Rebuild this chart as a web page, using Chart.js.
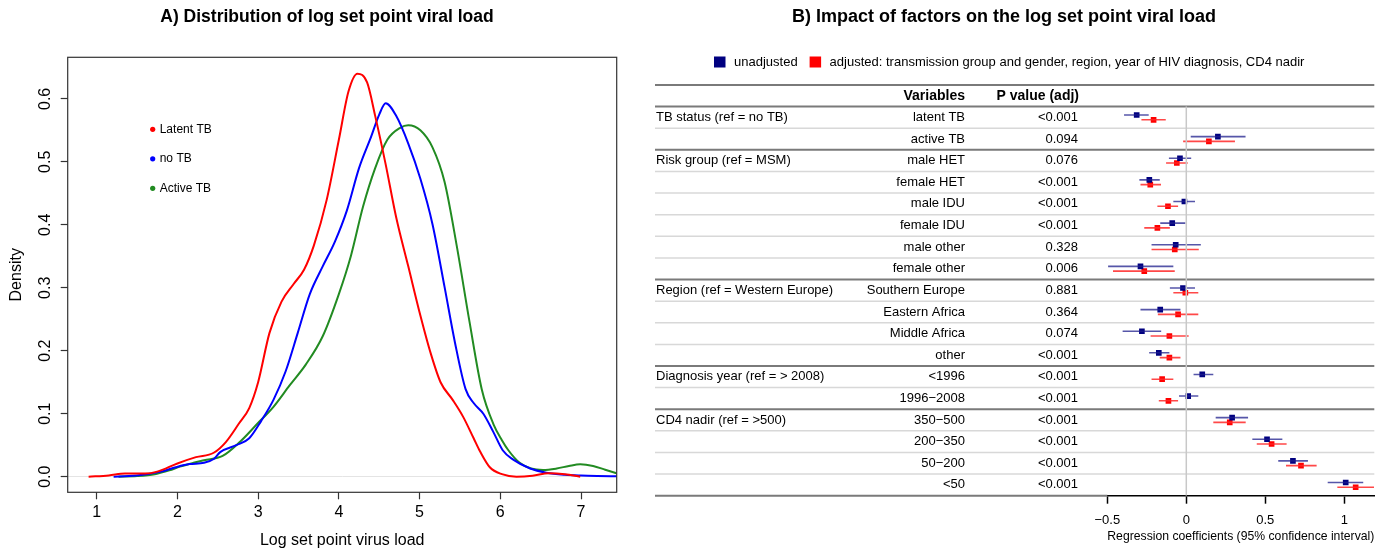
<!DOCTYPE html>
<html lang="en">
<head>
<meta charset="UTF-8">
<title>Set point viral load and TB</title>
<script src="https://cdn.jsdelivr.net/npm/chart.js"></script>
<style>
  body { margin: 0; background: #fff; }
  #wrap { position: relative; width: 1396px; height: 550px; }
  #left { position: absolute; left: 0; top: 0; }
  #right { position: absolute; left: 640px; top: 0; }
</style>
</head>
<body>
<div id="wrap">
  <canvas id="left" width="640" height="550"></canvas>
  <canvas id="right" width="756" height="550"></canvas>
</div>
<script>
// ---- panel A: density curves ----
const curveNames = ['Latent TB', 'no TB', 'Active TB'];
const curveColors = ['#ff0000', '#0000ff', '#228b22'];

const latentX = [0.90, 1.15, 1.35, 1.6, 1.75, 2.0, 2.23, 2.45, 2.6, 2.76, 2.89, 3.0, 3.14, 3.29, 3.44, 3.57, 3.69, 3.85, 4.0, 4.12, 4.23, 4.35, 4.45, 4.58, 4.71, 4.86, 5.01, 5.14, 5.26, 5.41, 5.54, 5.67, 5.75, 5.87, 6.02, 6.2, 6.4, 6.6, 6.8, 6.99];
const latentY = [0, 0.002, 0.005, 0.005, 0.008, 0.021, 0.031, 0.038, 0.055, 0.084, 0.109, 0.150, 0.228, 0.278, 0.306, 0.329, 0.367, 0.440, 0.535, 0.612, 0.640, 0.626, 0.573, 0.496, 0.412, 0.334, 0.256, 0.195, 0.150, 0.122, 0.095, 0.061, 0.040, 0.015, 0.004, 0.0, 0.0015, 0.0055, 0.004, 0.0];

const noTbX = [1.21, 1.4, 1.57, 1.8, 1.98, 2.15, 2.33, 2.45, 2.53, 2.73, 2.89, 3.04, 3.19, 3.34, 3.49, 3.64, 3.80, 3.95, 4.10, 4.25, 4.40, 4.50, 4.58, 4.71, 4.86, 5.01, 5.16, 5.31, 5.44, 5.57, 5.67, 5.79, 5.91, 6.03, 6.16, 6.37, 6.57, 6.8, 7.0, 7.2, 7.45];
const noTbY = [0, 0.001, 0.003, 0.008, 0.015, 0.020, 0.022, 0.028, 0.039, 0.050, 0.061, 0.089, 0.122, 0.167, 0.228, 0.290, 0.334, 0.373, 0.423, 0.490, 0.540, 0.575, 0.593, 0.573, 0.529, 0.473, 0.401, 0.301, 0.212, 0.139, 0.117, 0.100, 0.072, 0.042, 0.027, 0.013, 0.0064, 0.003, 0.0017, 0.001, 0.0005];

const activeX = [1.27, 1.5, 1.72, 1.9, 2.03, 2.2, 2.33, 2.56, 2.78, 2.99, 3.19, 3.39, 3.59, 3.80, 4.0, 4.15, 4.30, 4.45, 4.60, 4.76, 4.86, 5.01, 5.16, 5.31, 5.46, 5.62, 5.77, 5.92, 6.02, 6.10, 6.24, 6.38, 6.53, 6.7, 6.85, 6.99, 7.15, 7.3, 7.44];
const activeY = [0, 0.001, 0.004, 0.010, 0.016, 0.022, 0.026, 0.033, 0.056, 0.084, 0.111, 0.145, 0.178, 0.223, 0.290, 0.351, 0.429, 0.490, 0.535, 0.554, 0.558, 0.550, 0.523, 0.468, 0.367, 0.245, 0.139, 0.082, 0.058, 0.042, 0.022, 0.013, 0.0106, 0.013, 0.017, 0.0197, 0.017, 0.011, 0.0054];

// ---- panel B: forest plot table ----
const groupNames = ['TB status (ref = no TB)', 'Risk group (ref = MSM)', 'Region (ref = Western Europe)', 'Diagnosis year (ref = > 2008)', 'CD4 nadir (ref = >500)'];
const groupSizes = [2, 6, 4, 2, 4];
const variables = ['latent TB', 'active TB', 'male HET', 'female HET', 'male IDU', 'female IDU', 'male other', 'female other',
  'Southern Europe', 'Eastern Africa', 'Middle Africa', 'other', '<1996', '1996\u22122008', '350\u2212500', '200\u2212350', '50\u2212200', '<50'];
const pValues = ['<0.001', '0.094', '0.076', '<0.001', '<0.001', '<0.001', '0.328', '0.006', '0.881', '0.364', '0.074', '<0.001', '<0.001', '<0.001', '<0.001', '<0.001', '<0.001', '<0.001'];

const unadjEst = [-0.314, 0.200, -0.040, -0.234, -0.012, -0.089, -0.067, -0.290, -0.021, -0.165, -0.281, -0.174, 0.101, 0.012, 0.290, 0.511, 0.675, 1.009];
const unadjLo = [-0.394, 0.028, -0.110, -0.297, -0.082, -0.165, -0.220, -0.495, -0.104, -0.290, -0.403, -0.235, 0.046, -0.046, 0.186, 0.418, 0.582, 0.895];
const unadjHi = [-0.238, 0.375, 0.031, -0.168, 0.055, -0.006, 0.092, -0.082, 0.055, -0.037, -0.159, -0.107, 0.171, 0.076, 0.391, 0.608, 0.770, 1.120];
const adjEst = [-0.207, 0.143, -0.060, -0.228, -0.116, -0.183, -0.073, -0.266, -0.006, -0.052, -0.107, -0.107, -0.153, -0.113, 0.275, 0.540, 0.726, 1.072];
const adjLo = [-0.284, -0.020, -0.128, -0.290, -0.183, -0.266, -0.220, -0.464, -0.082, -0.180, -0.226, -0.168, -0.220, -0.174, 0.171, 0.446, 0.631, 0.956];
const adjHi = [-0.130, 0.308, 0.009, -0.160, -0.052, -0.104, 0.079, -0.073, 0.076, 0.076, 0.015, -0.037, -0.082, -0.052, 0.376, 0.635, 0.825, 1.188];

const seriesNames = ['unadjusted', 'adjusted: transmission group and gender, region, year of HIV diagnosis, CD4 nadir'];
const seriesColors = ['#000080', '#ff0000'];
const ciColors = ['rgba(30,30,140,0.75)', 'rgba(255,40,40,0.85)'];

const FONT = "'Liberation Sans', Arial, Helvetica, sans-serif";
Chart.defaults.font.family = FONT;
Chart.defaults.color = '#000';

function toPoints(xs, ys) {
  return xs.map((x, i) => ({ x: x, y: ys[i] }));
}

// box, title and inline legend for panel A
const leftExtras = {
  id: 'leftExtras',
  afterDraw(chart) {
    const { ctx, chartArea: a } = chart;
    ctx.save();
    ctx.strokeStyle = '#333';
    ctx.lineWidth = 1.2;
    ctx.strokeRect(a.left, a.top, a.right - a.left, a.bottom - a.top);
    ctx.fillStyle = '#000';
    ctx.font = 'bold 17.5px ' + FONT;
    ctx.textAlign = 'center';
    ctx.textBaseline = 'middle';
    ctx.fillText('A) Distribution of log set point viral load', 327, 17);
    ctx.font = '12px ' + FONT;
    ctx.textAlign = 'left';
    curveNames.forEach((name, i) => {
      const y = a.top + 72 + i * 29.5;
      ctx.fillStyle = curveColors[i];
      ctx.beginPath();
      ctx.arc(a.left + 85, y, 2.6, 0, Math.PI * 2);
      ctx.fill();
      ctx.fillStyle = '#000';
      ctx.fillText(name, a.left + 92, y);
    });
    ctx.restore();
  }
};

new Chart(document.getElementById('left'), {
  type: 'line',
  data: {
    datasets: [
      { label: curveNames[0], data: toPoints(latentX, latentY), borderColor: curveColors[0] },
      { label: curveNames[1], data: toPoints(noTbX, noTbY), borderColor: curveColors[1] },
      { label: curveNames[2], data: toPoints(activeX, activeY), borderColor: curveColors[2] }
    ]
  },
  options: {
    responsive: false,
    animation: false,
    layout: { padding: { left: 0, right: 23.3, top: 57.3, bottom: 0 } },
    elements: {
      point: { radius: 0 },
      line: { borderWidth: 2, cubicInterpolationMode: 'monotone' }
    },
    plugins: { legend: { display: false }, tooltip: { enabled: false } },
    scales: {
      x: {
        type: 'linear',
        min: 0.641,
        max: 7.442,
        afterFit: s => { s.height = 57.7; },
        border: { display: false },
        grid: { drawOnChartArea: false, tickLength: 7, tickColor: '#333', tickWidth: 1.2 },
        ticks: { stepSize: 1, includeBounds: false, font: { size: 16 }, padding: 4, maxRotation: 0 },
        title: { display: true, text: 'Log set point virus load', font: { size: 16 }, padding: { top: 0, bottom: 0 } }
      },
      y: {
        min: -0.0248,
        max: 0.666,
        afterFit: s => { s.width = 67.7; },
        border: { display: false },
        grid: {
          color: c => (c.tick && Math.abs(c.tick.value) < 1e-9 ? '#e4e4e4' : 'rgba(0,0,0,0)'),
          tickColor: '#333', tickLength: 7, tickWidth: 1.2
        },
        ticks: {
          stepSize: 0.1, includeBounds: false, font: { size: 16 }, padding: 3.5,
          minRotation: 90, maxRotation: 90, crossAlign: 'center',
          callback: v => Math.abs(v).toFixed(1)
        },
        title: { display: true, text: 'Density', font: { size: 16 }, padding: { top: 6.5, bottom: 0 } }
      }
    }
  },
  plugins: [leftExtras]
});

// ---- panel B ----
const OFFSET = 0.11;  // vertical nudge between the two series in a row

function ciData(lo, hi, shift) {
  const out = [];
  lo.forEach((l, i) => {
    out.push({ x: l, y: i + shift }, { x: hi[i], y: i + shift }, { x: null, y: null });
  });
  return out;
}
function estData(est, shift) {
  return est.map((e, i) => ({ x: e, y: i + shift }));
}

const rightExtras = {
  id: 'rightExtras',
  beforeDatasetsDraw(chart) {
    const { ctx, chartArea: a, scales: { y } } = chart;
    const L = 15, R = a.right;
    const rule = (v, dark, x2) => {
      const py = y.getPixelForValue(v);
      ctx.strokeStyle = dark ? '#7a7a7a' : '#d8d8d8';
      ctx.lineWidth = dark ? 2 : 1.5;
      ctx.beginPath();
      ctx.moveTo(L, py);
      ctx.lineTo(x2 === undefined ? R : x2, py);
      ctx.stroke();
    };
    ctx.save();
    // group boundaries
    const ends = [];
    let acc = 0;
    groupSizes.forEach(n => { acc += n; ends.push(acc - 1); });
    rule(-1.5, true);
    rule(-0.5, true);
    variables.forEach((v, i) => {
      if (i === variables.length - 1) rule(i + 0.5, true, a.left);
      else rule(i + 0.5, ends.includes(i));
    });
    // header
    ctx.fillStyle = '#000';
    ctx.textBaseline = 'middle';
    ctx.font = 'bold 14px ' + FONT;
    ctx.textAlign = 'right';
    ctx.fillText('Variables', 325, y.getPixelForValue(-1));
    ctx.fillText('P value (adj)', 439, y.getPixelForValue(-1));
    // rows
    ctx.font = '13px ' + FONT;
    variables.forEach((v, i) => {
      const py = y.getPixelForValue(i);
      ctx.textAlign = 'right';
      ctx.fillText(v, 325, py);
      ctx.fillText(pValues[i], 438, py);
    });
    ctx.textAlign = 'left';
    let start = 0;
    groupNames.forEach((g, k) => {
      ctx.fillText(g, 16, y.getPixelForValue(start));
      start += groupSizes[k];
    });
    ctx.restore();
  },
  afterDraw(chart) {
    const { ctx } = chart;
    ctx.save();
    ctx.fillStyle = '#000';
    ctx.textBaseline = 'middle';
    ctx.textAlign = 'center';
    ctx.font = 'bold 18px ' + FONT;
    ctx.fillText('B) Impact of factors on the log set point viral load', 364, 17);
    // legend
    ctx.font = '13px ' + FONT;
    ctx.textAlign = 'left';
    let x = 74;
    seriesNames.forEach((name, i) => {
      ctx.fillStyle = seriesColors[i];
      ctx.fillRect(x, 56.5, 11.5, 11);
      ctx.fillStyle = '#000';
      ctx.fillText(name, x + 20, 62);
      x += 20 + ctx.measureText(name).width + 12;
    });
    ctx.restore();
  }
};

new Chart(document.getElementById('right'), {
  type: 'scatter',
  data: {
    datasets: [
      { data: [{ x: 0, y: -0.5 }, { x: 0, y: 17.5 }], showLine: true, borderColor: '#c8c8c8', borderWidth: 1.5, pointRadius: 0 },
      { data: ciData(unadjLo, unadjHi, -OFFSET), showLine: true, borderColor: ciColors[0], borderWidth: 1.6, pointRadius: 0 },
      { data: ciData(adjLo, adjHi, OFFSET), showLine: true, borderColor: ciColors[1], borderWidth: 1.6, pointRadius: 0 },
      { label: seriesNames[0], data: estData(unadjEst, -OFFSET), pointStyle: 'rect', pointRadius: 4, backgroundColor: seriesColors[0], borderWidth: 0 },
      { label: seriesNames[1], data: estData(adjEst, OFFSET), pointStyle: 'rect', pointRadius: 4, backgroundColor: seriesColors[1], borderWidth: 0 }
    ]
  },
  options: {
    responsive: false,
    animation: false,
    layout: { padding: { left: 467.3, right: 21.7, top: 85, bottom: 0 } },
    plugins: { legend: { display: false }, tooltip: { enabled: false } },
    scales: {
      x: {
        type: 'linear',
        min: -0.5,
        max: 1.19,
        afterFit: s => { s.height = 54.3; },
        border: { display: true, color: '#000', width: 1.5 },
        grid: { drawOnChartArea: false, tickLength: 8, tickColor: '#000', tickWidth: 1.5 },
        ticks: {
          stepSize: 0.5, includeBounds: false, font: { size: 13 }, padding: 8.5, maxRotation: 0, autoSkip: false,
          callback: v => (v < 0 ? '\u2212' + Math.abs(v) : String(v))
        },
        title: { display: true, text: 'Regression coefficients (95% confidence interval)', font: { size: 13 }, padding: { top: 0, bottom: 5.5 } }
      },
      y: {
        type: 'linear',
        display: false,
        reverse: true,
        min: -1.5,
        max: 17.5
      }
    }
  },
  plugins: [rightExtras]
});
</script>
</body>
</html>
